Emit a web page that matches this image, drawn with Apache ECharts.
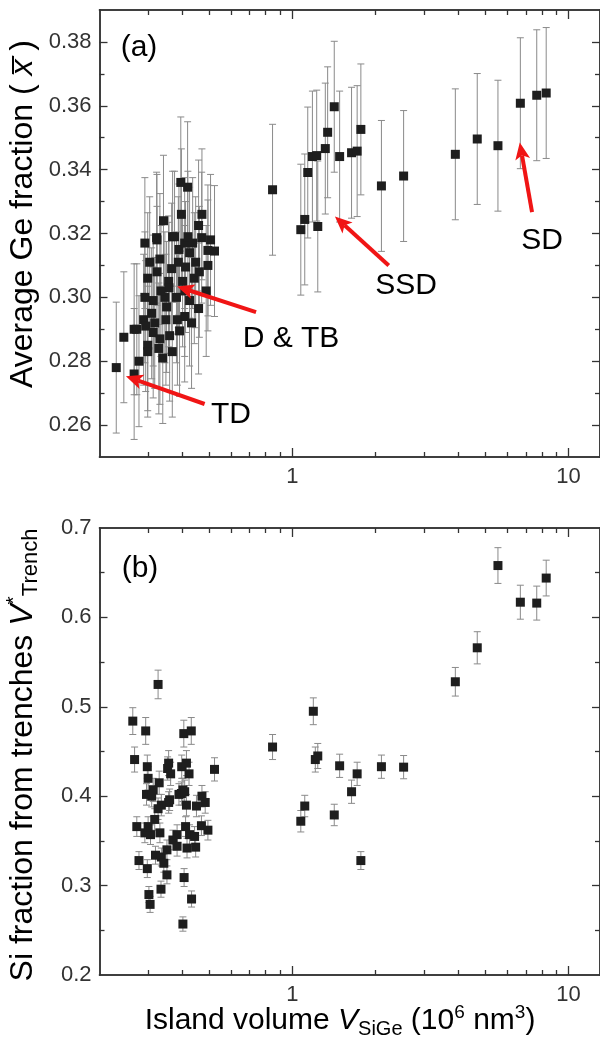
<!DOCTYPE html>
<html lang="en">
<head>
<meta charset="UTF-8">
<title>Ge fraction and Si trench fraction vs island volume</title>
<script src="https://cdn.jsdelivr.net/npm/echarts@6/dist/echarts.min.js"></script>
<style>
  html, body { margin: 0; padding: 0; background: #fff; }
  #chart { width: 600px; height: 1046px; }
</style>
</head>
<body>
<div id="chart"></div>
<script>
// panel (a): island volume (10^6 nm^3) vs average Ge fraction
var volA = [0.230, 0.245, 0.267, 0.273, 0.267, 0.278, 0.292, 0.299, 0.292, 0.289,
    0.294, 0.299, 0.299, 0.323, 0.323, 0.341, 0.313, 0.309, 0.317, 0.313,
    0.331, 0.328, 0.339, 0.350, 0.356, 0.357, 0.345, 0.359, 0.367, 0.368,
    0.388, 0.386, 0.396, 0.407, 0.418, 0.424, 0.410, 0.407, 0.380, 0.407,
    0.390, 0.441, 0.457, 0.470, 0.469, 0.494, 0.522, 0.494, 0.487, 0.394,
    0.417, 0.374, 0.322, 0.424, 0.446, 0.460, 0.365, 0.334, 0.383, 0.431,
    0.348, 0.304, 0.331, 0.400, 0.435, 0.457, 0.505,
    0.847, 1.072, 1.108, 1.136, 1.181, 1.224, 1.235, 1.315, 1.341, 1.417,
    1.482, 1.637, 1.715, 1.769, 2.10, 2.527, 3.89, 4.67, 5.55, 6.69, 7.67, 8.30];
var geA = [0.278, 0.2875, 0.290, 0.290, 0.276, 0.280, 0.317, 0.306, 0.300, 0.293,
    0.291, 0.285, 0.283, 0.318, 0.308, 0.324, 0.299, 0.295, 0.292, 0.289,
    0.287, 0.284, 0.281, 0.297, 0.305, 0.303, 0.300, 0.288, 0.283, 0.319,
    0.315, 0.311, 0.326, 0.317, 0.319, 0.314, 0.3095, 0.302, 0.300, 0.294,
    0.2895, 0.306, 0.2965, 0.326, 0.3187, 0.3147, 0.3145, 0.310, 0.302, 0.336,
    0.3345, 0.319, 0.3187, 0.299, 0.311, 0.308, 0.309, 0.302, 0.293, 0.292,
    0.293, 0.311, 0.312, 0.305, 0.317, 0.3225, 0.318,
    0.3337, 0.3212, 0.3244, 0.3391, 0.3441, 0.3444, 0.3222, 0.3466, 0.3517, 0.3597,
    0.3441, 0.3453, 0.3458, 0.3526, 0.3349, 0.338, 0.3448, 0.3496, 0.3475, 0.3608, 0.3633, 0.364];
var geErr = 0.0205; // every bar in (a) has about the same half length

// panel (b): island volume vs Si fraction from trenches
var volB = [0.264, 0.268, 0.294, 0.298, 0.300, 0.326, 0.329, 0.313, 0.356, 0.353,
    0.362, 0.404, 0.430, 0.397, 0.413, 0.422, 0.522, 0.401, 0.296, 0.359,
    0.470, 0.396, 0.309, 0.356, 0.335, 0.326, 0.273, 0.292, 0.306, 0.300,
    0.317, 0.331, 0.319, 0.335, 0.351, 0.342, 0.369, 0.382, 0.382, 0.410,
    0.424, 0.442, 0.415, 0.446, 0.468, 0.494, 0.388, 0.407, 0.413, 0.449,
    0.483, 0.278, 0.298, 0.351, 0.334, 0.405, 0.302, 0.305, 0.431, 0.401,
    0.847, 1.072, 1.108, 1.19, 1.21, 1.235, 1.417, 1.482, 1.637, 1.715,
    1.769, 2.10, 2.527, 3.89, 4.67, 5.55, 6.69, 7.67, 8.30];
var siB = [0.484, 0.441, 0.473, 0.433, 0.420, 0.525, 0.415, 0.407, 0.437, 0.431,
    0.425, 0.470, 0.473, 0.433, 0.437, 0.425, 0.430, 0.407, 0.402, 0.396,
    0.400, 0.403, 0.400, 0.393, 0.390, 0.386, 0.366, 0.359, 0.357, 0.366,
    0.374, 0.359, 0.334, 0.332, 0.340, 0.325, 0.351, 0.357, 0.344, 0.366,
    0.357, 0.355, 0.342, 0.343, 0.367, 0.362, 0.402, 0.405, 0.390, 0.389,
    0.393, 0.328, 0.319, 0.312, 0.296, 0.309, 0.290, 0.279, 0.285, 0.257,
    0.455, 0.372, 0.389, 0.495, 0.441, 0.445, 0.379, 0.434, 0.405, 0.425,
    0.328, 0.433, 0.4325, 0.528, 0.566, 0.658, 0.617, 0.616, 0.644];
var siErr = [0.015, 0.014, 0.015, 0.013, 0.013, 0.016, 0.013, 0.013, 0.014, 0.013,
    0.013, 0.015, 0.015, 0.013, 0.014, 0.013, 0.013, 0.013, 0.012, 0.012,
    0.012, 0.013, 0.012, 0.012, 0.012, 0.012, 0.011, 0.011, 0.011, 0.011,
    0.012, 0.011, 0.010, 0.010, 0.011, 0.010, 0.011, 0.011, 0.011, 0.011,
    0.011, 0.011, 0.011, 0.011, 0.011, 0.011, 0.012, 0.013, 0.012, 0.012,
    0.012, 0.010, 0.010, 0.010, 0.009, 0.010, 0.009, 0.009, 0.009, 0.008,
    0.014, 0.012, 0.012, 0.015, 0.014, 0.014, 0.012, 0.013, 0.013, 0.013,
    0.010, 0.013, 0.013, 0.016, 0.018, 0.020, 0.019, 0.019, 0.020];

// axis ticks
var xMajor = [1, 10];
var xMinor = [0.3, 0.4, 0.5, 0.6, 0.7, 0.8, 0.9, 2, 3, 4, 5, 6, 7, 8, 9];
var yMajorA = [0.26, 0.28, 0.30, 0.32, 0.34, 0.36, 0.38];
var yMinorA = [0.27, 0.29, 0.31, 0.33, 0.35, 0.37];
var yMajorB = [0.3, 0.4, 0.5, 0.6];
var yMinorB = [0.25, 0.35, 0.45, 0.55, 0.65];
var yLabelsB = [0.2, 0.3, 0.4, 0.5, 0.6, 0.7];

// annotation arrows in panel (a): tail x, tail y, tip x, tip y (data units)
var arrowsA = [
    [0.4806, 0.2666, 0.2493, 0.2753],   // TD
    [0.738, 0.2954, 0.382, 0.3034],     // D & TB
    [2.232, 0.3100, 1.425, 0.3253],     // SSD
    [7.375, 0.3267, 6.658, 0.3485]      // SD
];

var FONT = '"Liberation Sans", Arial, Helvetica, sans-serif';
var AXC = '#333';

function xAxis(grid, pos, ticks, len, labels) {
    return {
        type: 'log', logBase: 10, gridIndex: grid, position: pos,
        min: 0.2, max: 13,
        axisLine: { show: true, onZero: false, lineStyle: { color: AXC, width: 1.5 } },
        axisTick: { show: true, inside: true, length: len, customValues: ticks,
            lineStyle: { color: AXC, width: 1.3 } },
        axisLabel: labels ? { show: true, customValues: labels, margin: 9,
            fontFamily: FONT, fontSize: 22, color: AXC } : { show: false },
        splitLine: { show: false }
    };
}

function yAxis(grid, pos, min, max, ticks, len, labels, digits) {
    return {
        type: 'value', gridIndex: grid, position: pos, min: min, max: max,
        axisLine: { show: true, onZero: false, lineStyle: { color: AXC, width: 1.5 } },
        axisTick: { show: true, inside: true, length: len, customValues: ticks,
            lineStyle: { color: AXC, width: 1.3 } },
        axisLabel: labels ? { show: true, customValues: labels, margin: 8,
            fontFamily: FONT, fontSize: 22, color: AXC,
            formatter: function (v) { return v.toFixed(digits); } } : { show: false },
        splitLine: { show: false }
    };
}

function errorBars(vol, val, err, xi, yi) {
    var data = vol.map(function (x, i) {
        return [x, val[i], Array.isArray(err) ? err[i] : err];
    });
    return {
        type: 'custom', xAxisIndex: xi, yAxisIndex: yi, data: data,
        encode: { x: 0, y: 1 }, silent: true,
        renderItem: function (params, api) {
            var x = api.value(0), y = api.value(1), e = api.value(2);
            var hi = api.coord([x, y + e]);
            var lo = api.coord([x, y - e]);
            var w = 3.5;
            var st = { stroke: '#8a8a8a', lineWidth: 1 };
            return {
                type: 'group', children: [
                    { type: 'line', shape: { x1: hi[0], y1: hi[1], x2: lo[0], y2: lo[1] }, style: st },
                    { type: 'line', shape: { x1: hi[0] - w, y1: hi[1], x2: hi[0] + w, y2: hi[1] }, style: st },
                    { type: 'line', shape: { x1: lo[0] - w, y1: lo[1], x2: lo[0] + w, y2: lo[1] }, style: st }
                ]
            };
        }
    };
}

function squares(vol, val, xi, yi) {
    return {
        type: 'scatter', xAxisIndex: xi, yAxisIndex: yi,
        data: vol.map(function (x, i) { return [x, val[i]]; }),
        symbol: 'rect', symbolSize: 9,
        itemStyle: { color: '#1e1e1e', opacity: 1 }
    };
}

// red arrows, placed through the axes of panel (a)
var arrowSeries = {
    type: 'custom', xAxisIndex: 0, yAxisIndex: 0, data: arrowsA, silent: true, z: 10,
    encode: { x: [0, 2], y: [1, 3] },
    renderItem: function (params, api) {
        var a = api.coord([api.value(0), api.value(1)]);
        var b = api.coord([api.value(2), api.value(3)]);
        var dx = b[0] - a[0], dy = b[1] - a[1];
        var len = Math.sqrt(dx * dx + dy * dy);
        var ux = dx / len, uy = dy / len;
        var hl = 17, hw = 7.5, notch = 4;
        var bx = b[0] - ux * hl, by = b[1] - uy * hl;
        var red = '#f01515';
        return {
            type: 'group', children: [
                { type: 'line', shape: { x1: a[0], y1: a[1], x2: bx + ux * notch, y2: by + uy * notch },
                    style: { stroke: red, lineWidth: 4 } },
                { type: 'polygon', shape: { points: [
                    [b[0], b[1]],
                    [bx - uy * hw, by + ux * hw],
                    [bx + ux * notch, by + uy * notch],
                    [bx + uy * hw, by - ux * hw]
                ] }, style: { fill: red } }
            ]
        };
    }
};

function txt(x, y, s, size) {
    return { type: 'text', x: x, y: y, z: 100,
        style: { text: s, font: size + 'px ' + FONT, fill: '#000',
            align: 'center', verticalAlign: 'middle' } };
}

function richStyles(fs) {
    var sub = Math.round(fs * 0.68);
    return {
        n: { fontFamily: FONT, fontSize: fs, lineHeight: fs + 6, color: '#000' },
        i: { fontFamily: FONT, fontSize: fs, lineHeight: fs + 6, fontStyle: 'italic', color: '#000' },
        sub: { fontFamily: FONT, fontSize: sub, lineHeight: sub - 3, verticalAlign: 'bottom', color: '#000' },
        sup: { fontFamily: FONT, fontSize: sub - 1, lineHeight: sub - 1, verticalAlign: 'top', color: '#000' }
    };
}

function richTxt(x, y, s, rot, fs) {
    return { type: 'text', x: x, y: y, rotation: rot, z: 100,
        style: { text: s, rich: richStyles(fs), align: 'center', verticalAlign: 'middle' } };
}

var chart = echarts.init(document.getElementById('chart'), null, { renderer: 'canvas' });
chart.setOption({
    animation: false,
    backgroundColor: '#fff',
    grid: [
        { left: 99.5, top: 10, width: 503, height: 447 },
        { left: 99.5, top: 528, width: 503, height: 447 }
    ],
    xAxis: [
        xAxis(0, 'bottom', xMajor, 9, xMajor),
        xAxis(0, 'bottom', xMinor, 5, null),
        xAxis(0, 'top', xMajor, 9, null),
        xAxis(0, 'top', xMinor, 5, null),
        xAxis(1, 'bottom', xMajor, 9, xMajor),
        xAxis(1, 'bottom', xMinor, 5, null),
        xAxis(1, 'top', xMajor, 9, null),
        xAxis(1, 'top', xMinor, 5, null)
    ],
    yAxis: [
        yAxis(0, 'left', 0.25, 0.39, yMajorA, 8, yMajorA, 2),
        yAxis(0, 'left', 0.25, 0.39, yMinorA, 5, null),
        yAxis(0, 'right', 0.25, 0.39, yMajorA, 8, null),
        yAxis(0, 'right', 0.25, 0.39, yMinorA, 5, null),
        yAxis(1, 'left', 0.2, 0.7, yMajorB, 8, yLabelsB, 1),
        yAxis(1, 'left', 0.2, 0.7, yMinorB, 5, null),
        yAxis(1, 'right', 0.2, 0.7, yMajorB, 8, null),
        yAxis(1, 'right', 0.2, 0.7, yMinorB, 5, null)
    ],
    series: [
        errorBars(volA, geA, geErr, 0, 0),
        squares(volA, geA, 0, 0),
        errorBars(volB, siB, siErr, 4, 4),
        squares(volB, siB, 4, 4),
        arrowSeries
    ],
    graphic: [
        txt(139, 48, '(a)', 30),
        txt(140, 569, '(b)', 30),
        txt(231, 415, 'TD', 30),
        txt(291, 339, 'D & TB', 30),
        txt(406, 286, 'SSD', 30),
        txt(542, 241, 'SD', 30),
        richTxt(23, 214, '{n|Average Ge fraction ( }{i|x\u0305}{n| )}', Math.PI / 2, 32),
        richTxt(23, 755, '{n|Si fraction from trenches }{i|V}{sup|*}{sub|Trench}', Math.PI / 2, 32),
        richTxt(340, 1021, '{n|Island volume }{i|V}{sub|SiGe}{n| (10}{sup|6}{n| nm}{sup|3}{n|)}', 0, 30)
    ]
});
</script>
</body>
</html>
